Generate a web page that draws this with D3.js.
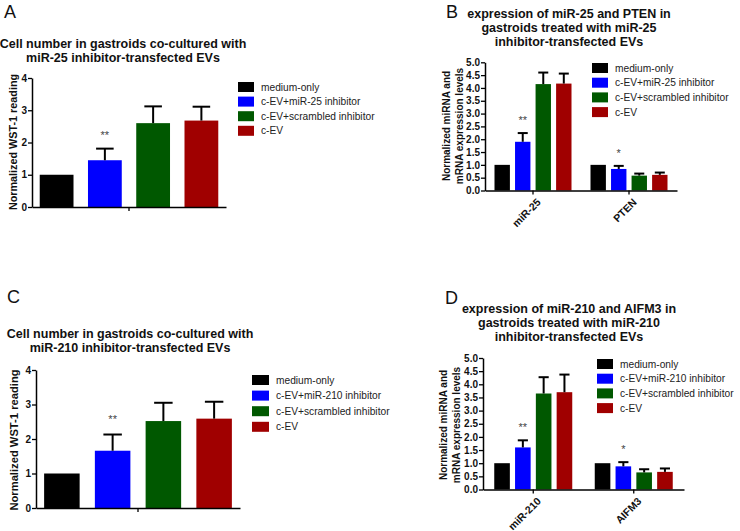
<!DOCTYPE html>
<html><head><meta charset="utf-8">
<script src="https://cdn.jsdelivr.net/npm/d3@7"></script>
<style>body{margin:0;background:#fff}svg{display:block}text{font-family:"Liberation Sans",Arial,sans-serif}</style>
</head><body>
<script>
// ---------- data ----------
const colors = ["#000000", "#0000ff", "#005800", "#a00000"];
const seriesNames25 = ["medium-only", "c-EV+miR-25 inhibitor", "c-EV+scrambled inhibitor", "c-EV"];
const seriesNames210 = ["medium-only", "c-EV+miR-210 inhibitor", "c-EV+scrambled inhibitor", "c-EV"];

// Panel A: WST-1 reading (miR-25)
const aMeans = [1.0, 1.45, 2.6, 2.68];
const aErrs  = [0, 0.36, 0.52, 0.43];
const aSig   = ["", "**", "", ""];
// Panel C: WST-1 reading (miR-210)
const cMeans = [1.0, 1.66, 2.52, 2.59];
const cErrs  = [0, 0.47, 0.53, 0.49];
const cSig   = ["", "**", "", ""];
const wstTicks = [0, 1, 2, 3, 4];

// Panel B: expression miR-25 / PTEN
const bGroups = ["miR-25", "PTEN"];
const bMeans = [[1.0, 1.9, 4.15, 4.17], [1.0, 0.84, 0.58, 0.61]];
const bErrs  = [[0, 0.34, 0.45, 0.39], [0, 0.12, 0.08, 0.09]];
const bSig   = [["", "**", "", ""], ["", "*", "", ""]];
// Panel D: expression miR-210 / AIFM3
const dGroups = ["miR-210", "AIFM3"];
const dMeans = [[1.0, 1.6, 3.65, 3.7], [1.0, 0.88, 0.65, 0.67]];
const dErrs  = [[0, 0.27, 0.62, 0.67], [0, 0.16, 0.12, 0.13]];
const dSig   = [["", "**", "", ""], ["", "*", "", ""]];
const exprTicks = [0, 0.5, 1.0, 1.5, 2.0, 2.5, 3.0, 3.5, 4.0, 4.5, 5.0];

const svg = d3.select("body").append("svg").attr("width", 740).attr("height", 531);

function panel(cfg) {
  const g = svg.append("g");
  // panel letter
  g.append("text").attr("x", cfg.letter[1]).attr("y", cfg.letter[2])
    .attr("font-size", 18).attr("fill", "#111").text(cfg.letter[0]);
  // title
  cfg.title.forEach((t, i) => {
    g.append("text").attr("x", cfg.titleX).attr("y", cfg.titleY + i * 14)
      .attr("text-anchor", "middle").attr("font-size", 12.5).attr("font-weight", "bold")
      .attr("fill", "#111").text(t);
  });
  const y = d3.scaleLinear().domain([0, cfg.ymax]).range([cfg.y0, cfg.yTop]);
  const groupsN = cfg.groups.length;
  const gx = d3.scaleBand().domain(d3.range(groupsN)).range([cfg.x0, cfg.x1])
    .paddingInner(0).paddingOuter(0);
  const bx = d3.scaleBand().domain(d3.range(4)).range([-cfg.inner / 2, cfg.inner / 2])
    .paddingInner(cfg.barPad).paddingOuter(cfg.barOuter);

  // bars
  for (let gi = 0; gi < groupsN; gi++) {
    const cx = gx(gi) + gx.bandwidth() / 2;
    const gg = g.append("g").attr("transform", `translate(${cx},0)`);
    const data = cfg.means[gi].map((m, i) => ({ m, e: cfg.errs[gi][i], s: cfg.sig[gi][i], i }));
    gg.selectAll("rect").data(data).join("rect")
      .attr("x", d => bx(d.i)).attr("width", bx.bandwidth())
      .attr("y", d => y(d.m)).attr("height", d => y(0) - y(d.m))
      .attr("fill", d => colors[d.i]);
    const ed = data.filter(d => d.e > 0);
    const cap = bx.bandwidth() * cfg.capFrac;
    gg.selectAll("line.ev").data(ed).join("line").attr("class", "ev")
      .attr("x1", d => bx(d.i) + bx.bandwidth() / 2).attr("x2", d => bx(d.i) + bx.bandwidth() / 2)
      .attr("y1", d => y(d.m)).attr("y2", d => y(d.m + d.e))
      .attr("stroke", "#000").attr("stroke-width", 2);
    gg.selectAll("line.cap").data(ed).join("line").attr("class", "cap")
      .attr("x1", d => bx(d.i) + bx.bandwidth() / 2 - cap / 2).attr("x2", d => bx(d.i) + bx.bandwidth() / 2 + cap / 2)
      .attr("y1", d => y(d.m + d.e)).attr("y2", d => y(d.m + d.e))
      .attr("stroke", "#000").attr("stroke-width", 2);
    gg.selectAll("text.sig").data(data.filter(d => d.s)).join("text").attr("class", "sig")
      .attr("x", d => bx(d.i) + bx.bandwidth() / 2).attr("y", d => y(d.m + d.e) - cfg.sigOff)
      .attr("text-anchor", "middle").attr("font-size", 11).attr("fill", "#444").text(d => d.s);
  }

  // y axis
  const ya = g.append("g").attr("transform", `translate(${cfg.x0},0)`)
    .call(d3.axisLeft(y).tickValues(cfg.ticks).tickFormat(cfg.fmt).tickSize(4).tickSizeOuter(0));
  ya.select(".domain").attr("stroke-width", 1.5);
  ya.selectAll(".tick line").attr("stroke-width", 1.3);
  ya.selectAll(".tick text").attr("font-size", 10).attr("font-weight", "bold").attr("fill", "#111")
    .attr("font-family", "Liberation Sans, Arial, sans-serif").attr("x", -5);
  // x axis
  const xa = g.append("g").attr("transform", `translate(0,${cfg.y0})`)
    .call(d3.axisBottom(gx).tickSize(4).tickSizeOuter(0).tickFormat(""));
  xa.select(".domain").attr("stroke-width", 1.5);
  xa.selectAll(".tick line").attr("stroke-width", 1.3);
  if (cfg.showGroupLabels) {
    cfg.groups.forEach((name, gi) => {
      const cx = gx(gi) + gx.bandwidth() / 2;
      g.append("text").attr("transform", `translate(${cx + 4},${cfg.y0 + 8}) rotate(-45)`)
        .attr("text-anchor", "end").attr("dy", "0.6em").attr("font-size", 10.5).attr("font-weight", "bold")
        .attr("fill", "#111").text(name);
    });
  }
  // y label
  cfg.ylabel.forEach((t, i) => {
    g.append("text").attr("transform", `translate(${cfg.ylabelX[i]},${cfg.ylabelY}) rotate(-90)`)
      .attr("text-anchor", "middle").attr("font-size", cfg.ylabelSize).attr("font-weight", "bold")
      .attr("fill", "#111").text(t);
  });
  // legend
  const lg = g.append("g").attr("transform", `translate(${cfg.legX},${cfg.legY})`);
  cfg.names.forEach((n, i) => {
    lg.append("rect").attr("x", 0).attr("y", i * cfg.legStep - 5).attr("width", cfg.swW).attr("height", 10)
      .attr("fill", colors[i]);
    lg.append("text").attr("x", cfg.swW + 7).attr("y", i * cfg.legStep).attr("dy", "0.35em")
      .attr("font-size", 10.2).attr("fill", "#222").text(n);
  });
}

panel({
  letter: ["A", 4, 18], title: ["Cell number in gastroids co-cultured with", "miR-25 inhibitor-transfected EVs"],
  titleX: 123, titleY: 48, ymax: 4, y0: 207, yTop: 78, x0: 32, x1: 226,
  groups: [""], means: [aMeans], errs: [aErrs], sig: [aSig], inner: 194, barPad: 0.3, barOuter: 0.16,
  capFrac: 0.52, sigOff: 10, ticks: wstTicks, fmt: d3.format("d"), showGroupLabels: false,
  ylabel: ["Normalized WST-1 reading"], ylabelX: [17], ylabelY: 142, ylabelSize: 10.8,
  names: seriesNames25, legX: 238, legY: 87, legStep: 14.6, swW: 16
});
panel({
  letter: ["C", 7, 303], title: ["Cell number in gastroids co-cultured with", "miR-210 inhibitor-transfected EVs"],
  titleX: 130, titleY: 338, ymax: 4, y0: 508, yTop: 370, x0: 36, x1: 240,
  groups: [""], means: [cMeans], errs: [cErrs], sig: [cSig], inner: 204, barPad: 0.3, barOuter: 0.16,
  capFrac: 0.52, sigOff: 12, ticks: wstTicks, fmt: d3.format("d"), showGroupLabels: false,
  ylabel: ["Normalized WST-1 reading"], ylabelX: [18], ylabelY: 440, ylabelSize: 11.2,
  names: seriesNames210, legX: 252, legY: 380, legStep: 15.6, swW: 17
});
panel({
  letter: ["B", 446, 18], title: ["expression of miR-25 and PTEN in", "gastroids treated with miR-25", "inhibitor-transfected EVs"],
  titleX: 569, titleY: 18, ymax: 5, y0: 190.5, yTop: 62.3, x0: 485, x1: 677,
  groups: bGroups, means: bMeans, errs: bErrs, sig: bSig, inner: 77, barPad: 0.25, barOuter: 0,
  capFrac: 0.65, sigOff: 9, ticks: exprTicks, fmt: d3.format(".1f"), showGroupLabels: true,
  ylabel: ["Normalized miRNA and", "mRNA expression levels"], ylabelX: [450, 463], ylabelY: 126, ylabelSize: 10,
  names: seriesNames25, legX: 592, legY: 68, legStep: 14.7, swW: 16
});
panel({
  letter: ["D", 445, 304], title: ["expression of miR-210 and AIFM3 in", "gastroids treated with miR-210", "inhibitor-transfected EVs"],
  titleX: 569, titleY: 313, ymax: 5, y0: 489.5, yTop: 358, x0: 483, x1: 684,
  groups: dGroups, means: dMeans, errs: dErrs, sig: dSig, inner: 78, barPad: 0.25, barOuter: 0,
  capFrac: 0.65, sigOff: 9, ticks: exprTicks, fmt: d3.format(".1f"), showGroupLabels: true,
  ylabel: ["Normalized miRNA and", "mRNA expression levels"], ylabelX: [447, 460], ylabelY: 425, ylabelSize: 10,
  names: seriesNames210, legX: 597, legY: 364, legStep: 14.7, swW: 16
});
</script>
</body></html>
